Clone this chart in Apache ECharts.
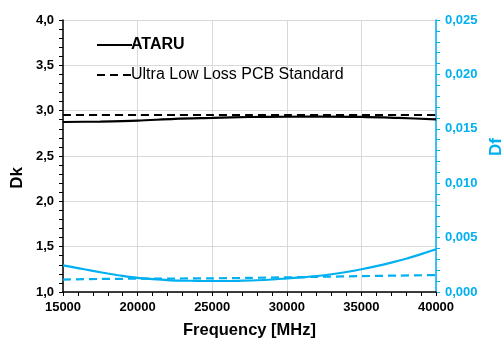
<!DOCTYPE html>
<html><head><meta charset="utf-8">
<script src="https://cdn.jsdelivr.net/npm/echarts@6/dist/echarts.min.js"></script>
<style>html,body{margin:0;padding:0;background:#fff}#c{width:504px;height:344px}</style>
</head><body><div id="c"></div>
<script>
var freq = [15000,17500,20000,22500,25000,27500,30000,32500,35000,37500,40000];
var dkAtaru = [2.875,2.88,2.89,2.91,2.92,2.93,2.933,2.935,2.932,2.92,2.905];
var dkStd   = [2.952,2.952,2.952,2.952,2.952,2.952,2.952,2.952,2.952,2.952,2.952];
var dfStd   = [0.00114,0.0012,0.00122,0.00124,0.00126,0.0013,0.00135,0.0014,0.00146,0.00151,0.00156];
var freqDf = [15000,16000,17000,18000,19000,20000,21000,22000,23000,24000,25000,26000,27000,28000,29000,30000,31000,32000,33000,34000,35000,36000,37000,38000,39000,40000];
var dfAtaru = [0.00245,0.0022,0.00194,0.0017,0.00148,0.0013,0.00119,0.0011,0.00105,0.00102,0.00101,0.00101,0.00104,0.00108,0.00115,0.00125,0.00135,0.00147,0.00163,0.00184,0.00209,0.00238,0.0027,0.00306,0.00348,0.00393];
var names = ['ATARU','Ultra Low Loss PCB Standard'];
var CY = '#00B0F0';
var FONT = 'Liberation Sans, Arial, sans-serif';
function pairs(x,y){return x.map(function(v,i){return [v,y[i]];});}
var chart = echarts.init(document.getElementById('c'), null, {renderer:'canvas'});
chart.setOption({
  animation:false,
  textStyle:{fontFamily:FONT},
  grid:{left:63,right:68,top:20,bottom:51,containLabel:false},
  legend:{
    orient:'vertical', left:91, top:32, itemWidth:35, itemHeight:14, itemGap:14,
    data:names,
    itemStyle:{opacity:0},
    formatter:function(n){return n==='ATARU'?'{b|'+n+'}':'{n|'+n+'}';},
    textStyle:{fontFamily:FONT,color:'#000',padding:[0,0,0,-6],
      rich:{b:{fontWeight:'bold',fontSize:16,color:'#000',fontFamily:FONT},n:{fontSize:16,color:'#000',fontFamily:FONT}}}
  },
  xAxis:{
    type:'value', min:15000, max:40000, interval:5000,
    axisLine:{lineStyle:{color:'#000',width:1.5}},
    axisTick:{show:true,length:4,lineStyle:{color:'#000'}},
    minorTick:{show:true,splitNumber:5,length:4,lineStyle:{color:'#000'}},
    splitLine:{show:true,lineStyle:{color:'#d9d9d9'}},
    axisLabel:{color:'#000',fontWeight:'bold',fontSize:13,margin:9,fontFamily:FONT,
      formatter:function(v){return String(v);}},
    name:'Frequency [MHz]', nameLocation:'middle', nameGap:30,
    nameTextStyle:{color:'#000',fontWeight:'bold',fontSize:16.5,fontFamily:FONT}
  },
  yAxis:[{
    type:'value', min:1, max:4, interval:0.5, position:'left',
    axisLine:{show:true,lineStyle:{color:'#000',width:1.5}},
    axisTick:{show:true,length:4,lineStyle:{color:'#000'}},
    minorTick:{show:true,splitNumber:5,length:4,lineStyle:{color:'#000'}},
    splitLine:{show:true,lineStyle:{color:'#d9d9d9'}},
    axisLabel:{color:'#000',fontWeight:'bold',fontSize:13,margin:9,fontFamily:FONT,
      formatter:function(v){return v.toFixed(1).replace('.',',');}}
  },{
    type:'value', min:0, max:0.025, interval:0.005, position:'right',
    axisLine:{show:true,lineStyle:{color:CY,width:1.5}},
    axisTick:{show:true,length:4,lineStyle:{color:CY}},
    minorTick:{show:true,splitNumber:5,length:4,lineStyle:{color:CY}},
    splitLine:{show:false},
    axisLabel:{color:CY,fontWeight:'bold',fontSize:13,margin:9,fontFamily:FONT,
      formatter:function(v){return v.toFixed(3).replace('.',',');}}
  }],
  graphic:[
    {type:'text',left:9,top:167,rotation:Math.PI/2,style:{text:'Dk',font:'bold 17px '+FONT,fill:'#000'},z:10},
    {type:'text',left:488,top:138,rotation:Math.PI/2,style:{text:'Df',font:'bold 17px '+FONT,fill:CY},z:10}
  ],
  series:[
    {name:names[0],type:'line',yAxisIndex:0,smooth:0.3,symbol:'none',data:pairs(freq,dkAtaru),
      lineStyle:{color:'#000',width:2.2},itemStyle:{color:'#000'}},
    {name:names[1],type:'line',yAxisIndex:0,smooth:0.3,symbol:'none',data:pairs(freq,dkStd),
      lineStyle:{color:'#000',width:2.2,type:[8,5]},itemStyle:{color:'#000'}},
    {name:names[0]+' ',type:'line',yAxisIndex:1,smooth:0.3,symbol:'none',data:pairs(freqDf,dfAtaru),
      lineStyle:{color:CY,width:2.2},itemStyle:{color:CY}},
    {name:names[1]+' ',type:'line',yAxisIndex:1,smooth:0.3,symbol:'none',data:pairs(freq,dfStd),
      lineStyle:{color:CY,width:2.2,type:[8,5]},itemStyle:{color:CY}}
  ]
});
</script></body></html>
